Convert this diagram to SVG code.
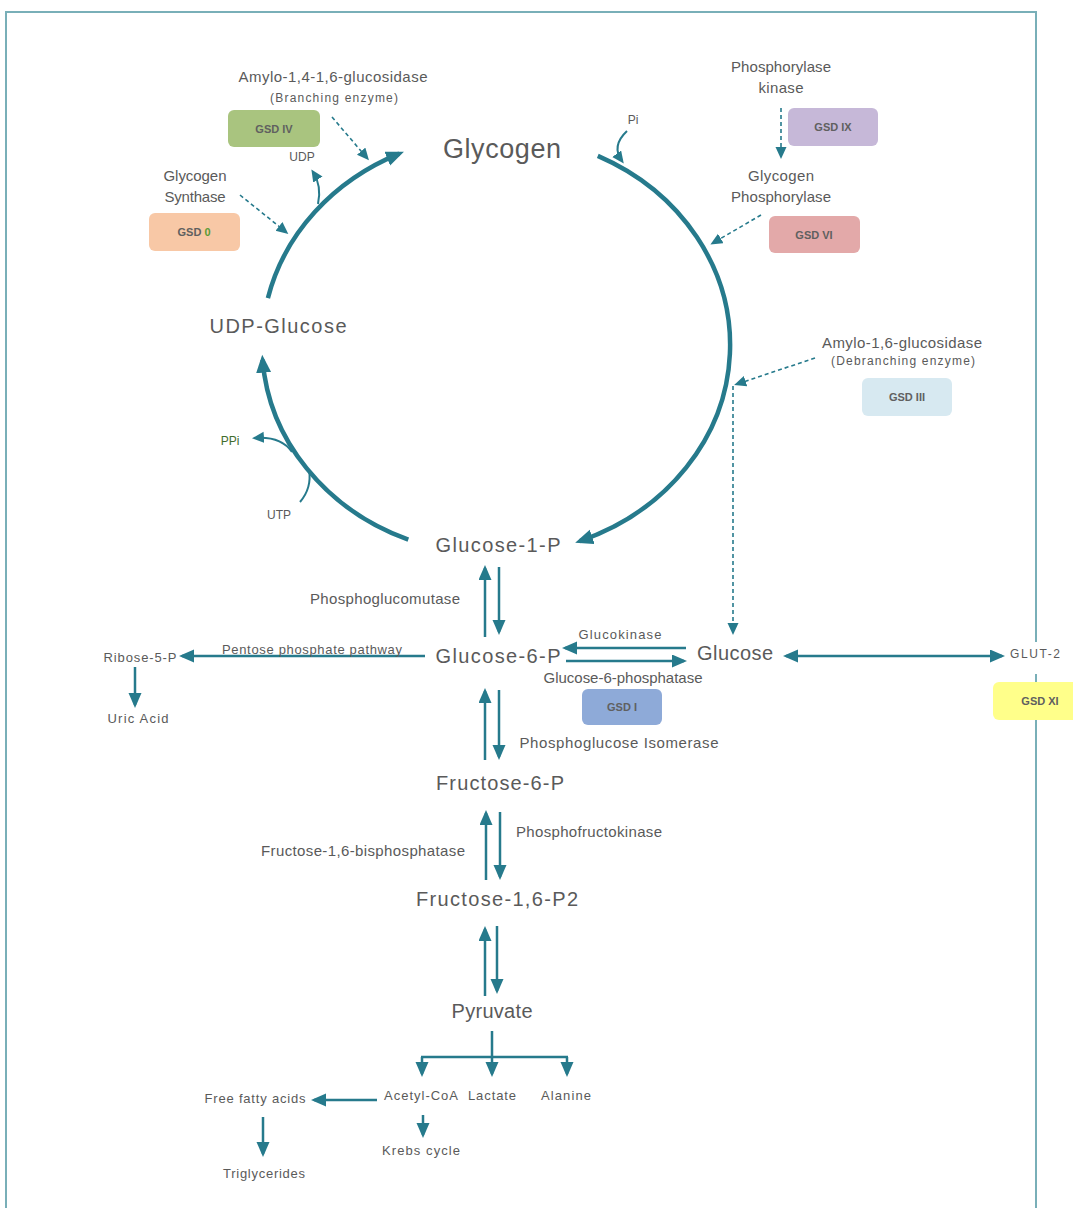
<svg xmlns="http://www.w3.org/2000/svg" width="1073" height="1208" viewBox="0 0 1073 1208">
<style>
text{font-family:"Liberation Sans",Arial,sans-serif;text-anchor:middle;fill:#5a5a5a}
.big{font-size:20px}
.lbl{font-size:15px}
.sm{font-size:12px}
.s13{font-size:13px}
.bx{font-size:11px;font-weight:bold;fill:#606060}
.arc{stroke:#267a8c;stroke-width:4.5;fill:none}
.ln{stroke:#267a8c;stroke-width:2.5;fill:none}
.thin{stroke:#267a8c;stroke-width:2;fill:none}
.dash{stroke:#267a8c;stroke-width:1.6;fill:none;stroke-dasharray:4 3}
</style>
<defs>
<marker id="mb" markerUnits="userSpaceOnUse" markerWidth="20" markerHeight="16" refX="13" refY="7.5" orient="auto"><path d="M0,0 L18,7.5 L0,15 z" fill="#267a8c"/></marker>
<marker id="mm" markerUnits="userSpaceOnUse" markerWidth="16" markerHeight="14" refX="12" refY="6.5" orient="auto-start-reverse"><path d="M0,0 L15,6.5 L0,13 z" fill="#267a8c"/></marker>
<marker id="ms" markerUnits="userSpaceOnUse" markerWidth="13" markerHeight="12" refX="9" refY="5.5" orient="auto"><path d="M0,0 L12,5.5 L0,11 z" fill="#267a8c"/></marker>
</defs>
<rect width="1073" height="1208" fill="#fff"/>
<rect x="6" y="12" width="1030" height="1220" fill="none" stroke="#79afb8" stroke-width="2"/>

<g id="connectors">
<path class="arc" d="M597.8 155.9 A234 210 0 0 1 579.9 541.1" marker-end="url(#mb)"/>
<path class="arc" d="M408.3 539.7 A234 210 0 0 1 262.6 359.7" marker-end="url(#mb)"/>
<path class="arc" d="M267.9 298.1 A234 210 0 0 1 399.3 153.7" marker-end="url(#mb)"/>
<path class="thin" d="M318 204 Q322 186 313 172" marker-end="url(#ms)"/>
<path class="thin" d="M627 131 Q611 146 622 161" marker-end="url(#ms)"/>
<path class="thin" d="M292 452 Q281 436 255 438" marker-end="url(#ms)"/>
<path class="thin" d="M300 502 Q312 488 309 470"/>
<path class="dash" d="M332 117 L367 158" marker-end="url(#ms)"/>
<path class="dash" d="M240 195 L286 232" marker-end="url(#ms)"/>
<path class="dash" d="M781 108 L781 156" marker-end="url(#ms)"/>
<path class="dash" d="M761 215 L713 243" marker-end="url(#ms)"/>
<path class="dash" d="M815 358 L737 384" marker-end="url(#ms)"/>
<path class="dash" d="M733 386 L733 632" marker-end="url(#ms)"/>
<path class="ln" d="M485 637 L485 568" marker-end="url(#mm)"/>
<path class="ln" d="M499 567 L499 632" marker-end="url(#mm)"/>
<path class="ln" d="M485 760 L485 691" marker-end="url(#mm)"/>
<path class="ln" d="M499 690 L499 757" marker-end="url(#mm)"/>
<path class="ln" d="M486 880 L486 813" marker-end="url(#mm)"/>
<path class="ln" d="M500 812 L500 877" marker-end="url(#mm)"/>
<path class="ln" d="M485 996 L485 929" marker-end="url(#mm)"/>
<path class="ln" d="M497 926 L497 991" marker-end="url(#mm)"/>
<path class="ln" d="M425 656 L182 656" marker-end="url(#mm)"/>
<path class="ln" d="M135 667 L135 705" marker-end="url(#mm)"/>
<path class="ln" d="M686 648 L565 648" marker-end="url(#mm)"/>
<path class="ln" d="M566 661 L684 661" marker-end="url(#mm)"/>
<path class="ln" d="M786 656 L1002 656" marker-start="url(#mm)" marker-end="url(#mm)"/>
<path class="ln" d="M492 1031 L492 1057 M421 1057 L568 1057"/>
<path class="ln" d="M422 1057 L422 1074" marker-end="url(#mm)"/>
<path class="ln" d="M492 1057 L492 1074" marker-end="url(#mm)"/>
<path class="ln" d="M567 1057 L567 1074" marker-end="url(#mm)"/>
<path class="ln" d="M377 1100 L314 1100" marker-end="url(#mm)"/>
<path class="ln" d="M263 1117 L263 1154" marker-end="url(#mm)"/>
<path class="ln" d="M423 1115 L423 1135" marker-end="url(#mm)"/>
</g>

<g id="glycogen"><text x="502" y="158" style="font-size:27px" textLength="118">Glycogen</text></g>
<g id="udp-glucose"><text class="big" x="278" y="333" textLength="137">UDP-Glucose</text></g>
<g id="glucose-1-p"><text class="big" x="498" y="552" textLength="125">Glucose-1-P</text></g>
<g id="glucose-6-p"><text class="big" x="498" y="663" textLength="125">Glucose-6-P</text></g>
<g id="glucose"><text class="big" x="735" y="660" textLength="76">Glucose</text></g>
<g id="fructose-6-p"><text class="big" x="500" y="790" textLength="128">Fructose-6-P</text></g>
<g id="fructose-16-p2"><text class="big" x="497" y="906" textLength="162">Fructose-1,6-P2</text></g>
<g id="pyruvate"><text class="big" x="492" y="1018" textLength="81">Pyruvate</text></g>

<g id="branching-enzyme">
<text class="lbl" x="333" y="82" textLength="189">Amylo-1,4-1,6-glucosidase</text>
<text class="sm" x="334" y="102" textLength="128">(Branching enzyme)</text>
</g>
<g id="gsd-iv"><rect x="228" y="110" width="92" height="37" rx="6" fill="#a9c47f"/><text class="bx" x="274" y="133">GSD IV</text></g>
<g id="udp"><text class="sm" x="302" y="161">UDP</text></g>
<g id="glycogen-synthase">
<text class="lbl" x="195" y="181" textLength="63">Glycogen</text>
<text class="lbl" x="195" y="202" textLength="61">Synthase</text>
</g>
<g id="gsd-0"><rect x="149" y="213" width="91" height="38" rx="6" fill="#f8c8a6"/><text class="bx" x="194" y="236">GSD <tspan fill="#5b9b35">0</tspan></text></g>

<g id="phosphorylase-kinase">
<text class="lbl" x="781" y="72" textLength="100">Phosphorylase</text>
<text class="lbl" x="781" y="93" textLength="45">kinase</text>
</g>
<g id="gsd-ix"><rect x="788" y="108" width="90" height="38" rx="6" fill="#c6b8d8"/><text class="bx" x="833" y="131">GSD IX</text></g>
<g id="glycogen-phosphorylase">
<text class="lbl" x="781" y="181" textLength="66">Glycogen</text>
<text class="lbl" x="781" y="202" textLength="100">Phosphorylase</text>
</g>
<g id="gsd-vi"><rect x="769" y="216" width="91" height="37" rx="6" fill="#e3a9a9"/><text class="bx" x="814" y="239">GSD VI</text></g>
<g id="pi"><text class="sm" x="633" y="124">Pi</text></g>

<g id="debranching-enzyme">
<text class="lbl" x="902" y="348" textLength="160">Amylo-1,6-glucosidase</text>
<text class="sm" x="903" y="365" textLength="144">(Debranching enzyme)</text>
</g>
<g id="gsd-iii"><rect x="862" y="378" width="90" height="38" rx="6" fill="#d7e9f1"/><text class="bx" x="907" y="401">GSD III</text></g>

<g id="ppi"><text class="sm" x="230" y="445" style="fill:#3f6d2c">PPi</text></g>
<g id="utp"><text class="sm" x="279" y="519">UTP</text></g>

<g id="phosphoglucomutase"><text class="lbl" x="385" y="604" textLength="150">Phosphoglucomutase</text></g>
<g id="pentose-phosphate"><text class="s13" x="312" y="654" textLength="180">Pentose phosphate pathway</text></g>
<g id="ribose-5-p"><text class="s13" x="140" y="662" textLength="73">Ribose-5-P</text></g>
<g id="uric-acid"><text class="s13" x="138" y="723" textLength="61">Uric Acid</text></g>
<g id="glucokinase"><text class="s13" x="620" y="639" textLength="83">Glucokinase</text></g>
<g id="glucose-6-phosphatase"><text class="lbl" x="623" y="683" textLength="159">Glucose-6-phosphatase</text></g>
<g id="gsd-i"><rect x="582" y="689" width="80" height="36" rx="6" fill="#8eaad8"/><text class="bx" x="622" y="711">GSD I</text></g>
<g id="phosphoglucose-isomerase"><text class="lbl" x="619" y="748" textLength="199">Phosphoglucose  Isomerase</text></g>
<g id="glut-2"><rect x="1007" y="642" width="58" height="32" fill="#fff"/><text class="sm" x="1035" y="658" textLength="50">GLUT-2</text></g>
<g id="gsd-xi"><rect x="993" y="682" width="90" height="38" rx="6" fill="#ffff8a"/><text class="bx" x="1040" y="705">GSD XI</text></g>
<g id="phosphofructokinase"><text class="lbl" x="589" y="837" textLength="146">Phosphofructokinase</text></g>
<g id="fructose-bisphosphatase"><text class="lbl" x="363" y="856" textLength="204">Fructose-1,6-bisphosphatase</text></g>
<g id="acetyl-coa"><text class="s13" x="421" y="1100" textLength="74">Acetyl-CoA</text></g>
<g id="lactate"><text class="s13" x="492" y="1100" textLength="48">Lactate</text></g>
<g id="alanine"><text class="s13" x="566" y="1100" textLength="50">Alanine</text></g>
<g id="free-fatty-acids"><text class="s13" x="255" y="1103" textLength="101">Free fatty acids</text></g>
<g id="krebs-cycle"><text class="s13" x="421" y="1155" textLength="78">Krebs cycle</text></g>
<g id="triglycerides"><text class="s13" x="264" y="1178" textLength="82">Triglycerides</text></g>
</svg>
